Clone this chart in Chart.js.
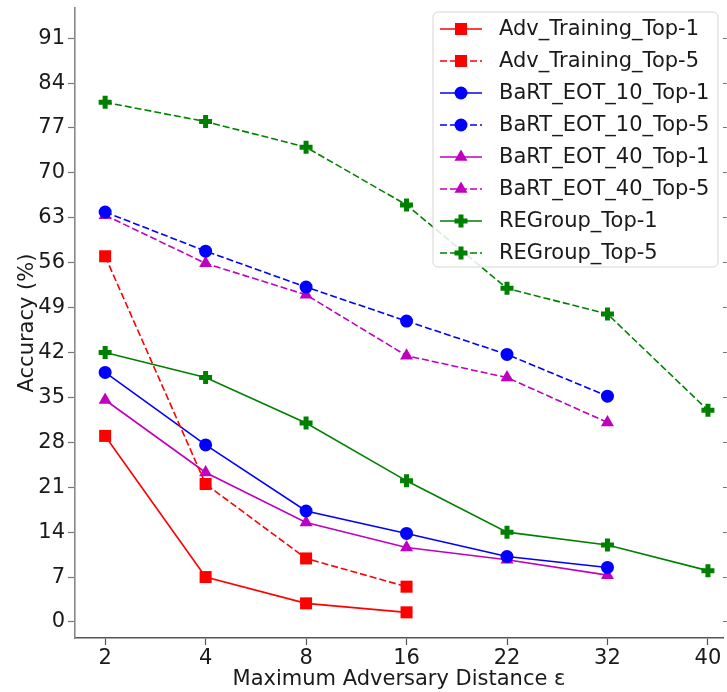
<!DOCTYPE html>
<html>
<head>
<meta charset="utf-8">
<script src="https://cdn.jsdelivr.net/npm/chart.js@4/dist/chart.umd.min.js"></script>
<style>
  html, body { margin: 0; padding: 0; background: #fff; }
  #wrap { width: 727px; height: 692px; }
</style>
</head>
<body>
<div id="wrap"><canvas id="chart" width="727" height="692"></canvas></div>
<script>
// x categories (maximum adversary distance)
const epsLabels = ["2", "4", "8", "16", "22", "32", "40"];
const yTicks = [0, 7, 14, 21, 28, 35, 42, 49, 56, 63, 70, 77, 84, 91];

// accuracy (%) per method
const advTop1 = [29, 7, 2.9, 1.5];
const advTop5 = [57, 21.5, 9.9, 5.5];
const bart10Top1 = [38.9, 27.6, 17.3, 13.8, 10.2, 8.5];
const bart10Top5 = [63.9, 57.8, 52.2, 46.9, 41.7, 35.2];
const bart40Top1 = [34.6, 23.3, 15.5, 11.6, 9.7, 7.3];
const bart40Top5 = [63.4, 55.9, 51, 41.5, 38.1, 31.1];
const regroupTop1 = [42, 38.1, 31, 22, 14, 12, 8];
const regroupTop5 = [81, 78, 74, 65, 52, 48, 33];

const FONT = "'DejaVu Sans', sans-serif";
const FSIZE = 21;
const DASH = [7, 3];

const toPts = (arr) => arr.map((v, i) => ({ x: i, y: v }));

function series(label, values, color, style, dashed) {
  const marker = {
    rect: { pointStyle: "rect", pointRadius: 8.5, pointBorderWidth: 0 },
    circle: { pointStyle: "circle", pointRadius: 6.5, pointBorderWidth: 0 },
    triangle: { pointStyle: "triangle", pointRadius: 7.5, pointBorderWidth: 0 },
    cross: { pointStyle: "cross", pointRadius: 6.5, pointBorderWidth: 5 },
  }[style];
  return {
    label,
    data: toPts(values),
    borderColor: color,
    backgroundColor: color,
    pointBackgroundColor: color,
    pointBorderColor: color,
    borderWidth: 1.6,
    borderDash: dashed ? DASH : [],
    tension: 0,
    fill: false,
    ...marker,
    pointHoverRadius: marker.pointRadius,
  };
}

const datasets = [
  series("Adv_Training_Top-1", advTop1, "#ff0000", "rect", false),
  series("Adv_Training_Top-5", advTop5, "#ff0000", "rect", true),
  series("BaRT_EOT_10_Top-1", bart10Top1, "#0000ff", "circle", false),
  series("BaRT_EOT_10_Top-5", bart10Top5, "#0000ff", "circle", true),
  series("BaRT_EOT_40_Top-1", bart40Top1, "#bf00bf", "triangle", false),
  series("BaRT_EOT_40_Top-5", bart40Top5, "#bf00bf", "triangle", true),
  series("REGroup_Top-1", regroupTop1, "#008000", "cross", false),
  series("REGroup_Top-5", regroupTop5, "#008000", "cross", true),
];

function drawMarker(ctx, ds, x, y) {
  const r = ds.pointRadius;
  ctx.fillStyle = ds.pointBackgroundColor;
  ctx.strokeStyle = ds.pointBorderColor;
  ctx.beginPath();
  if (ds.pointStyle === "rect") {
    const s = Math.SQRT1_2 * r;
    ctx.rect(x - s, y - s, 2 * s, 2 * s);
    ctx.fill();
  } else if (ds.pointStyle === "circle") {
    ctx.arc(x, y, r, 0, Math.PI * 2);
    ctx.fill();
  } else if (ds.pointStyle === "triangle") {
    for (let k = 0; k < 3; k++) {
      const a = k * (2 * Math.PI / 3);
      const px = x + Math.sin(a) * r, py = y - Math.cos(a) * r;
      k === 0 ? ctx.moveTo(px, py) : ctx.lineTo(px, py);
    }
    ctx.closePath();
    ctx.fill();
  } else {
    ctx.lineWidth = ds.pointBorderWidth;
    ctx.moveTo(x - r, y); ctx.lineTo(x + r, y);
    ctx.moveTo(x, y - r); ctx.lineTo(x, y + r);
    ctx.stroke();
  }
}

// matplotlib-style legend: line segment + marker, boxed in the upper right
const boxLegend = {
  id: "boxLegend",
  afterDraw(chart) {
    const ctx = chart.ctx;
    const bx = 433, by = 12, bw = 285, bh = 255, rad = 5;
    ctx.save();
    ctx.beginPath();
    ctx.moveTo(bx + rad, by);
    ctx.arcTo(bx + bw, by, bx + bw, by + bh, rad);
    ctx.arcTo(bx + bw, by + bh, bx, by + bh, rad);
    ctx.arcTo(bx, by + bh, bx, by, rad);
    ctx.arcTo(bx, by, bx + bw, by, rad);
    ctx.closePath();
    ctx.fillStyle = "rgba(255,255,255,0.85)";
    ctx.fill();
    ctx.lineWidth = 1;
    ctx.strokeStyle = "#d6d6d6";
    ctx.stroke();

    ctx.font = FSIZE + "px " + FONT;
    ctx.textBaseline = "middle";
    chart.data.datasets.forEach((ds, i) => {
      const y = by + 17 + i * 32;
      ctx.beginPath();
      ctx.lineWidth = ds.borderWidth;
      ctx.strokeStyle = ds.borderColor;
      ctx.setLineDash(ds.borderDash);
      ctx.moveTo(440, y);
      ctx.lineTo(482, y);
      ctx.stroke();
      ctx.setLineDash([]);
      drawMarker(ctx, ds, 461, y);
      ctx.fillStyle = "#1a1a1a";
      ctx.fillText(ds.label, 499, y + 1);
    });
    ctx.restore();
  },
};

const fixedTicks = (vals) => (scale) => {
  scale.ticks = vals.map((v) => ({ value: v }));
};

new Chart(document.getElementById("chart"), {
  type: "line",
  data: { datasets },
  plugins: [boxLegend],
  options: {
    responsive: false,
    animation: false,
    layout: { autoPadding: false, padding: { top: 8, left: 0, right: 0, bottom: 0 } },
    plugins: { legend: { display: false }, tooltip: { enabled: false } },
    scales: {
      x: {
        type: "linear",
        min: -0.3,
        max: 6.15,
        afterBuildTicks: fixedTicks([0, 1, 2, 3, 4, 5, 6]),
        afterFit: (s) => { s.height = 54; s.paddingLeft = 0; s.paddingRight = 0; },
        grid: { drawOnChartArea: false, tickLength: 7, color: "#555", tickWidth: 1.2 },
        border: { color: "#555", width: 1.6 },
        ticks: {
          padding: 1,
          color: "#1a1a1a",
          font: { family: FONT, size: FSIZE },
          callback: (v) => epsLabels[v],
        },
        title: {
          display: true,
          text: "Maximum Adversary Distance ε",
          color: "#1a1a1a",
          font: { family: FONT, size: FSIZE },
          padding: { top: 0, bottom: 0 },
        },
      },
      y: {
        min: -2.5,
        max: 95.7,
        afterBuildTicks: fixedTicks(yTicks),
        afterFit: (s) => { s.width = 75; s.paddingTop = 0; s.paddingBottom = 0; },
        grid: { drawOnChartArea: false, tickLength: 7, color: "#777", tickWidth: 1.2 },
        border: { color: "#888", width: 1.6 },
        ticks: {
          padding: 3,
          color: "#1a1a1a",
          font: { family: FONT, size: FSIZE },
        },
        title: {
          display: true,
          text: "Accuracy (%)",
          color: "#1a1a1a",
          font: { family: FONT, size: FSIZE },
          padding: { top: 15, bottom: 0 },
        },
      },
      y2: {
        position: "right",
        min: -2.5,
        max: 95.7,
        afterBuildTicks: fixedTicks(yTicks),
        afterFit: (s) => { s.width = 4; s.paddingTop = 0; s.paddingBottom = 0; },
        grid: { drawOnChartArea: false, tickLength: 4, color: "#777" },
        border: { display: false },
        ticks: { display: false },
      },
    },
  },
});
</script>
</body>
</html>
